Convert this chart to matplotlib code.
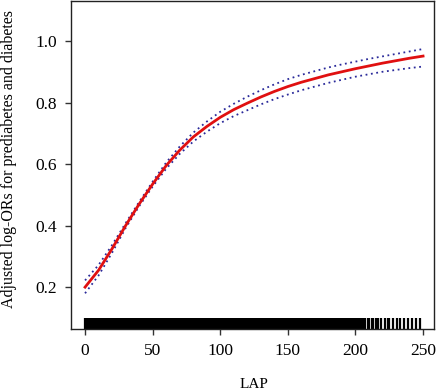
import matplotlib
matplotlib.use("Agg")
import matplotlib.pyplot as plt
import matplotlib.transforms as mtransforms

# Fitted curve (LAP vs adjusted log-ORs)
lap = [0, 10, 20, 30, 40, 50, 60, 70, 80, 90, 100, 110, 120, 130, 140, 150,
       160, 170, 180, 190, 200, 210, 220, 230, 240, 250]
fit = [0.200, 0.255, 0.325, 0.400, 0.470, 0.535, 0.595, 0.645, 0.688, 0.722,
       0.752, 0.777, 0.798, 0.818, 0.836, 0.852, 0.866, 0.878, 0.890, 0.900,
       0.910, 0.919, 0.928, 0.936, 0.944, 0.951]
upper = [0.222, 0.272, 0.337, 0.408, 0.477, 0.543, 0.605, 0.657, 0.702, 0.738,
         0.770, 0.796, 0.819, 0.840, 0.859, 0.876, 0.890, 0.902, 0.914, 0.924,
         0.933, 0.942, 0.950, 0.958, 0.966, 0.974]
lower = [0.180, 0.238, 0.312, 0.392, 0.463, 0.527, 0.585, 0.633, 0.673, 0.705,
         0.733, 0.756, 0.775, 0.794, 0.811, 0.826, 0.840, 0.852, 0.864, 0.874,
         0.884, 0.892, 0.900, 0.906, 0.912, 0.917]

# Rug of observed LAP values
rug = [0, 1, 2, 3, 4, 5, 6, 7, 8, 9, 10, 11, 12, 13, 14, 15, 16, 17, 18, 19,
       20, 21, 22, 23, 24, 25, 26, 27, 28, 29, 30, 31, 32, 33, 34, 35, 36, 37,
       38, 39, 40, 41, 42, 43, 44, 45, 46, 47, 48, 49, 50, 51, 52, 53, 54, 55,
       56, 57, 58, 59, 60, 61, 62, 63, 64, 65, 66, 67, 68, 69, 70, 71, 72, 73,
       74, 75, 76, 77, 78, 79, 80, 81, 82, 83, 84, 85, 86, 87, 88, 89, 90, 91,
       92, 93, 94, 95, 96, 97, 98, 99, 100, 101, 102, 103, 104, 105, 106, 107,
       108, 109, 110, 111, 112, 113, 114, 115, 116, 117, 118, 119, 120, 121,
       122, 123, 124, 125, 126, 127, 128, 129, 130, 131, 132, 133, 134, 135,
       136, 137, 138, 139, 140, 141, 142, 143, 144, 145, 146, 147, 148, 149,
       150, 151, 152, 153, 154, 155, 156, 157, 158, 159, 160, 161, 162, 163,
       164, 165, 166, 167, 168, 169, 170, 171, 172, 173, 174, 175, 176, 177,
       178, 179, 180, 181, 182, 183, 184, 185, 186, 187, 188, 189, 190, 191,
       192, 193, 194, 195, 196, 197, 198, 199, 200, 201, 202, 203, 205, 206,
       207, 209, 210, 212, 213, 215, 217, 219, 222, 224, 225, 228, 231, 233,
       236, 239, 242, 245, 248]

xticks = [0, 50, 100, 150, 200, 250]
yticks = [0.2, 0.4, 0.6, 0.8, 1.0]
xlabel = "LAP"
ylabel = "Adjusted log-ORs for prediabetes and diabetes"

plt.rcParams['font.family'] = ['Liberation Serif', 'DejaVu Serif']

fig = plt.figure(figsize=(4.37, 3.89), dpi=100)
ax = fig.add_axes([71/437, 1 - 329/389, (434-71)/437, (329-1)/389])

trans = mtransforms.blended_transform_factory(ax.transData, ax.transAxes)
ax.vlines(rug, 0, 0.034, colors='black', linewidth=1.6, transform=trans)

ax.plot(lap, upper, color='#2a2a9a', linestyle=(0, (1, 2)), linewidth=1.3)
ax.plot(lap, lower, color='#2a2a9a', linestyle=(0, (1, 2)), linewidth=1.3)
ax.plot(lap, fit, color='#e01010', linewidth=2.0)

ax.set_xlim(-10.4, 258.1)
ax.set_ylim(0.064, 1.13)
ax.set_xticks(xticks)
ax.set_xticklabels([str(v) for v in xticks])
ax.set_yticks(yticks)
ax.set_yticklabels([f"{v:.1f}" for v in yticks])
ax.tick_params(axis='both', labelsize=12.5, length=4, width=1, color='#333333', pad=6)
for s in ax.spines.values():
    s.set_linewidth(1.0)
    s.set_color('#222222')

fig.text(254/437, 1 - 387.5/389, xlabel, ha='center', va='baseline', fontsize=11)
fig.text(9/437, 1 - 159/389, ylabel, ha='center', va='center', rotation=90, fontsize=11.5)

fig.savefig("out.png", dpi=100)
